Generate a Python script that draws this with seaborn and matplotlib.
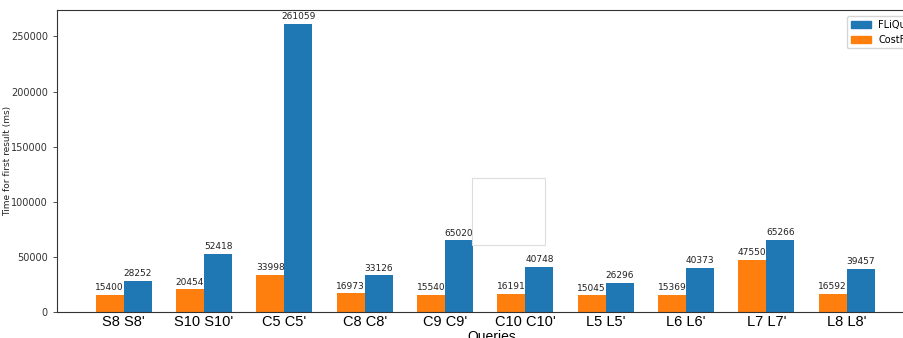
import matplotlib
matplotlib.use("Agg")
import matplotlib.pyplot as plt
from matplotlib.patches import Rectangle, Patch
import pandas as pd
import seaborn as sns

queries = ["S8 S8'", "S10 S10'", "C5 C5'", "C8 C8'", "C9 C9'",
           "C10 C10'", "L5 L5'", "L6 L6'", "L7 L7'", "L8 L8'"]
costfed = [15400, 20454, 33998, 16973, 15540, 16191, 15045, 15369, 47550, 16592]
fliqe = [28252, 52418, 261059, 33126, 65020, 40748, 26296, 40373, 65266, 39457]
systems = ["CostFed", "FLiQuE"]
colors = {"CostFed": "#ff7f0e", "FLiQuE": "#1f77b4"}

df = pd.DataFrame({
    "query": queries * 2,
    "system": ["CostFed"] * len(queries) + ["FLiQuE"] * len(queries),
    "time": costfed + fliqe,
})

fig = plt.figure(figsize=(9.04, 3.38), dpi=100)
ax = fig.add_axes([57 / 904, 26 / 338, 870 / 904, 302 / 338])

sns.barplot(data=df, x="query", y="time", hue="system", hue_order=systems,
            order=queries, palette=colors, width=0.7, saturation=1,
            errorbar=None, legend=False, ax=ax)

for cont in ax.containers:
    ax.bar_label(cont, fmt="%d", fontsize=6.5, padding=2, color="#222222")

ax.set_xlim(-0.83, 10.0)
ax.set_ylim(0, 274000)
ax.set_yticks([0, 50000, 100000, 150000, 200000, 250000])
ax.ticklabel_format(axis="y", style="plain")
ax.tick_params(axis="y", labelsize=7, length=3, width=0.6, colors="#333333")
ax.tick_params(axis="x", length=0, pad=2)
for lbl in ax.get_xticklabels():
    lbl.set_fontfamily("Liberation Sans")
    lbl.set_fontsize(10.5)
ax.set_xlabel("Queries", fontsize=10, family="Liberation Sans", labelpad=1)
ax.set_ylabel("Time for first result (ms)", fontsize=6.5, color="#222222")
ax.yaxis.set_label_coords(-45 / 870, 0.5)
for s in ax.spines.values():
    s.set_linewidth(0.8)
    s.set_color("#333333")

handles = [Patch(color=colors["FLiQuE"], label="FLiQuE"),
           Patch(color=colors["CostFed"], label="CostFed")]
ax.legend(handles=handles, loc="upper right", fontsize=7, frameon=True,
          handlelength=2.0, borderaxespad=0.6)

fig.add_artist(Rectangle((472 / 904, 1 - 245 / 338), 73 / 904, 67 / 338,
                         transform=fig.transFigure, facecolor="white",
                         edgecolor="#dddddd", linewidth=0.8, zorder=10))

fig.savefig("out.png", dpi=100)
